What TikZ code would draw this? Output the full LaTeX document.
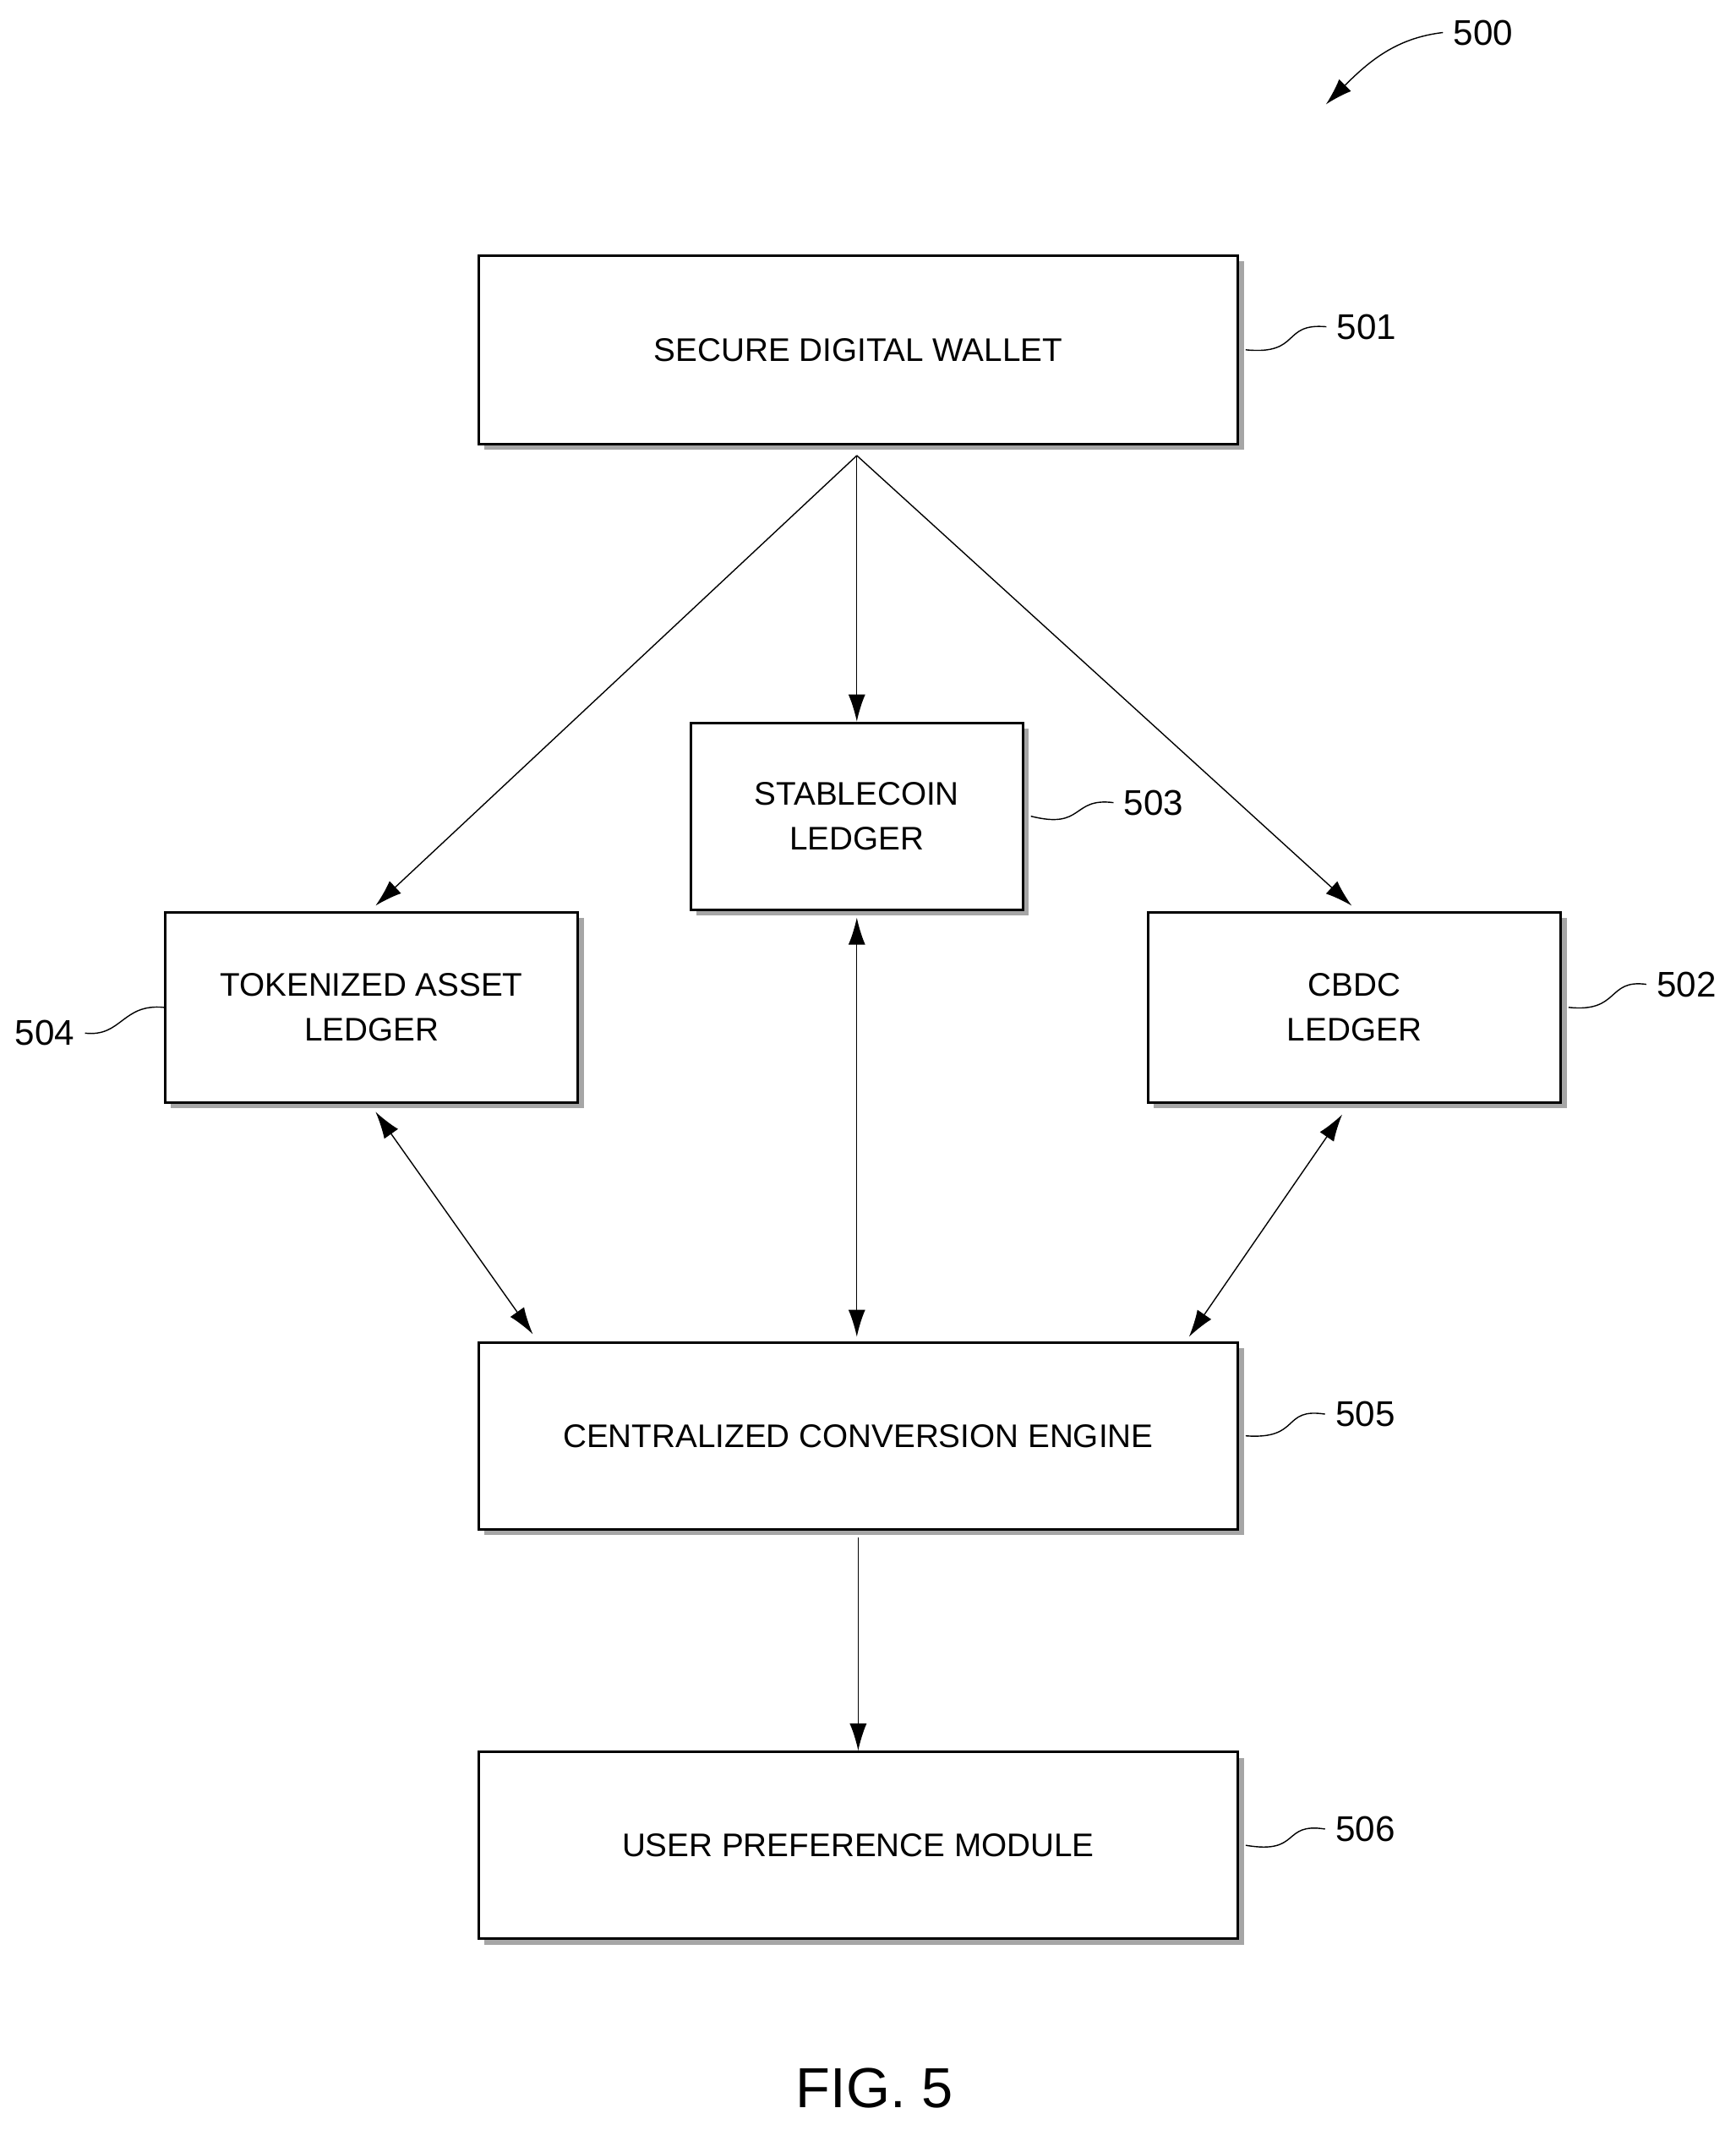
\documentclass[tikz,border=0pt]{standalone}
\usepackage{fontspec}
\setmainfont{Liberation Sans}
\usetikzlibrary{arrows.meta,shadows}

\tikzset{
  blk/.style={draw, thick, fill=white, align=center, font=\fontsize{11}{15}\selectfont,
    inner sep=0pt, drop shadow={shadow xshift=0.07cm, shadow yshift=-0.07cm, opacity=1, fill=gray!70}},
  lnk/.style={-{Latex[length=0.32cm,width=0.2cm]}, thin},
  dlnk/.style={{Latex[length=0.32cm,width=0.2cm]}-{Latex[length=0.32cm,width=0.2cm]}, thin},
  ref/.style={font=\fontsize{12}{14}\selectfont},
  lead/.style={thin}
}

\begin{document}
\begin{tikzpicture}[x=0.01604cm,y=-0.01604cm]
\useasboundingbox (0,0) rectangle (1280,1571);

% boxes
\node[blk, minimum width=8.98cm, minimum height=2.23cm] (wallet) at (633,258) {SECURE DIGITAL WALLET};
\node[blk, minimum width=3.93cm, minimum height=2.21cm] (stable) at (632,602) {STABLECOIN\\LEDGER};
\node[blk, minimum width=4.88cm, minimum height=2.25cm] (token) at (274,743) {TOKENIZED ASSET\\LEDGER};
\node[blk, minimum width=4.88cm, minimum height=2.25cm] (cbdc) at (999,743) {CBDC\\LEDGER};
\node[blk, minimum width=8.98cm, minimum height=2.21cm] (engine) at (633,1059) {CENTRALIZED CONVERSION ENGINE};
\node[blk, minimum width=8.98cm, minimum height=2.21cm] (pref) at (633,1361) {USER PREFERENCE MODULE};

% connectors
\coordinate (wb) at (632,336);
\draw[lnk] (wb) -- (stable.north);
\draw[lnk] (wb) -- (277,668);
\draw[lnk] (wb) -- (997,668);
\draw[dlnk] (stable.south) ++(0,-0.08cm) -- (632,986);
\draw[dlnk] (277,820) -- (393,984);
\draw[dlnk] (990,822) -- (877,986);
\draw[lnk] (engine.south) ++(0,-0.08cm) -- (pref.north);

% reference numerals
\node[ref] (n501) at (1008,241) {501};
\draw[lead] (wallet.east) ++(0.08cm,0) .. controls (960,262) and (945,238) .. (n501.west);
\node[ref] (n503) at (851,592) {503};
\draw[lead] (stable.east) ++(0.08cm,0) .. controls (800,612) and (790,588) .. (n503.west);
\node[ref] (n504) at (33,762) {504};
\draw[lead] (n504.east) .. controls (90,765) and (90,740) .. (token.west);
\node[ref] (n502) at (1244,726) {502};
\draw[lead] (cbdc.east) ++(0.08cm,0) .. controls (1195,747) and (1185,722) .. (n502.west);
\node[ref] (n505) at (1007,1043) {505};
\draw[lead] (engine.east) ++(0.08cm,0) .. controls (960,1062) and (945,1038) .. (n505.west);
\node[ref] (n506) at (1007,1349) {506};
\draw[lead] (pref.east) ++(0.08cm,0) .. controls (960,1368) and (945,1344) .. (n506.west);

% figure numeral
\node[ref] (n500) at (1094,24) {500};
\draw[lnk] (n500.west) .. controls (1030,28) and (1010,45) .. (978,77);

\node[font=\fontsize{19}{22}\selectfont] (fig) at (645,1540) {FIG. 5};
\end{tikzpicture}
\end{document}
